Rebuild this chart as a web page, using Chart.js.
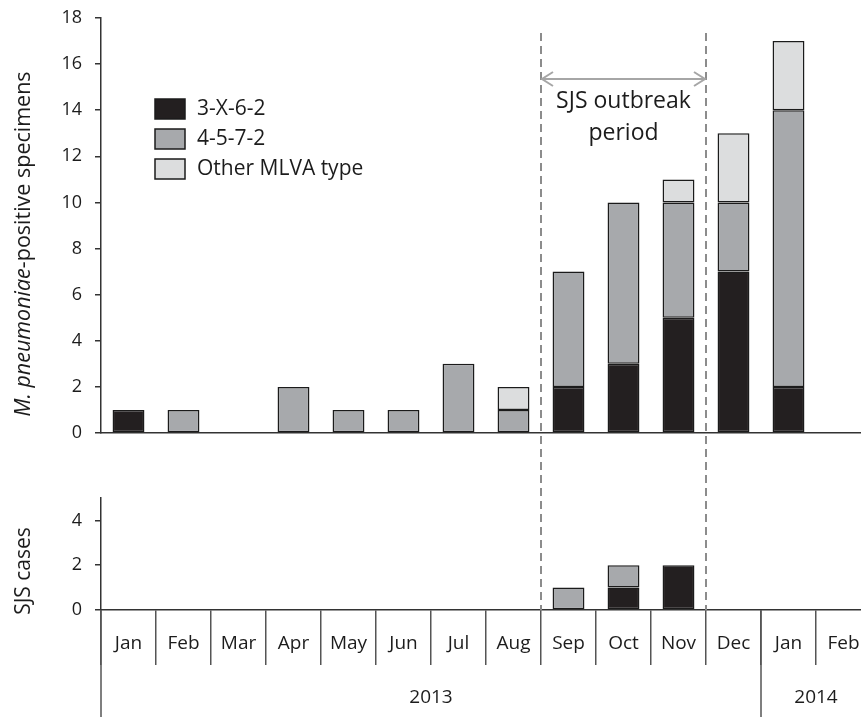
<!DOCTYPE html>
<html>
<head>
<meta charset="utf-8">
<script src="https://cdn.jsdelivr.net/npm/chart.js@4.4.1/dist/chart.umd.min.js"></script>
<style>
  html, body { margin: 0; padding: 0; background: #fff; overflow: hidden; width: 861px; height: 717px; }
  #wrap { position: relative; width: 861px; height: 717px; overflow: hidden; }
  canvas { position: absolute; left: 0; top: 0; }
</style>
</head>
<body>
<div id="wrap">
  <canvas id="specimens" width="880" height="717"></canvas>
  <canvas id="sjs" width="880" height="717"></canvas>
</div>
<script>
// Months on the shared x axis, with the year each month belongs to
const months = ['Jan', 'Feb', 'Mar', 'Apr', 'May', 'Jun', 'Jul', 'Aug', 'Sep', 'Oct', 'Nov', 'Dec', 'Jan', 'Feb'];
const yearLabels = ['2013', '2014'];
const yearFirstMonth = [0, 12];
const yearLastMonth = [11, 13];

// MLVA types
const seriesNames = ['3-X-6-2', '4-5-7-2', 'Other MLVA type'];

// M. pneumoniae-positive specimens per month, by MLVA type
const specimens3X62 = [1, 0, 0, 0, 0, 0, 0, 0, 2, 3, 5, 7, 2, 0];
const specimens4572 = [0, 1, 0, 2, 1, 1, 3, 1, 5, 7, 5, 3, 12, 0];
const specimensOther = [0, 0, 0, 0, 0, 0, 0, 1, 0, 0, 1, 3, 3, 0];

// SJS cases per month, by MLVA type
const sjs3X62 = [0, 0, 0, 0, 0, 0, 0, 0, 0, 1, 2, 0, 0, 0];
const sjs4572 = [0, 0, 0, 0, 0, 0, 0, 0, 1, 1, 0, 0, 0, 0];

// Outbreak period: first and last month index
const outbreakStart = 8;
const outbreakEnd = 10;
const outbreakText = ['SJS outbreak', 'period'];

// Axis ranges
const specimenAxis = { min: 0, max: 18, step: 2 };
const sjsAxis = { min: 0, max: 5, step: 2 };
const specimenTitleItalic = 'M. pneumoniae';
const specimenTitleRest = '-positive specimens';
const sjsTitle = 'SJS cases';

const FONT = '"Open Sans", Lato, sans-serif';
const INK = '#1c1c1c';
const FILLS = ['#231f20', '#a7a9ac', '#dcddde'];
const EDGE = '#1b1b1b';

function barSet(label, data, fill) {
  return {
    label, data,
    backgroundColor: fill,
    borderColor: EDGE,
    borderWidth: ctx => (ctx.raw ? 1.5 : 0),
    borderSkipped: false,
    categoryPercentage: 1,
    barPercentage: 0.58
  };
}

function yScale(range, fixWidth) {
  return {
    stacked: true,
    min: range.min, max: range.max,
    ticks: { stepSize: range.step, padding: 13, color: INK, font: { family: FONT, size: 18 } },
    afterBuildTicks(s) { s.ticks = s.ticks.filter(t => t.value % range.step === 0); },
    grid: { drawOnChartArea: false, drawTicks: true, tickLength: 6, color: '#333', lineWidth: 1.5 },
    border: { display: true, color: '#333', width: 1.5 },
    afterFit(s) { s.width = fixWidth; s.paddingTop = 0; s.paddingBottom = 0; }
  };
}

// boundary between month i and month i+1, in pixels
function boundary(xs, i) {
  return (xs.getPixelForValue(i) + xs.getPixelForValue(i + 1)) / 2;
}

const specimenDecor = {
  id: 'specimenDecor',
  afterDraw(chart) {
    const ctx = chart.ctx;
    ctx.save();
    // rotated y-axis title with italic organism name
    ctx.translate(24, 244);
    ctx.rotate(-Math.PI / 2);
    ctx.fillStyle = INK;
    ctx.textBaseline = 'middle';
    const fi = 'italic 21.5px ' + FONT, fn = '21.5px ' + FONT;
    ctx.font = fi; const w1 = ctx.measureText(specimenTitleItalic).width;
    ctx.font = fn; const w2 = ctx.measureText(specimenTitleRest).width;
    const x0 = -(w1 + w2) / 2;
    ctx.textAlign = 'left';
    ctx.font = fi; ctx.fillText(specimenTitleItalic, x0, 0);
    ctx.font = fn; ctx.fillText(specimenTitleRest, x0 + w1, 0);
    ctx.restore();

    // legend
    ctx.save();
    chart.data.datasets.forEach((ds, i) => {
      const y = 99 + i * 30;
      ctx.fillStyle = ds.backgroundColor;
      ctx.fillRect(155, y, 30, 20);
      ctx.strokeStyle = EDGE;
      ctx.lineWidth = 1.5;
      ctx.strokeRect(155, y, 30, 20);
      ctx.fillStyle = INK;
      ctx.font = '21px ' + FONT;
      ctx.textAlign = 'left';
      ctx.textBaseline = 'middle';
      ctx.fillText(ds.label, 197, y + 10);
    });
    ctx.restore();
  }
};

const sjsDecor = {
  id: 'sjsDecor',
  afterDraw(chart) {
    const ctx = chart.ctx;
    const area = chart.chartArea;
    const xs = chart.scales.x;
    ctx.save();
    // y-axis title
    ctx.translate(24, 571);
    ctx.rotate(-Math.PI / 2);
    ctx.fillStyle = INK;
    ctx.font = '21px ' + FONT;
    ctx.textAlign = 'center';
    ctx.textBaseline = 'middle';
    ctx.fillText(sjsTitle, 0, 0);
    ctx.restore();

    // year row: separators and labels
    ctx.save();
    ctx.strokeStyle = '#555';
    ctx.lineWidth = 1.5;
    const yearLeft = yearFirstMonth.map(i => boundary(xs, i - 1));
    const yearRight = yearLastMonth.map(i => boundary(xs, i));
    ctx.beginPath();
    yearLeft.forEach(x => { ctx.moveTo(x, area.bottom); ctx.lineTo(x, 717); });
    ctx.stroke();
    ctx.fillStyle = INK;
    ctx.font = '19px ' + FONT;
    ctx.textAlign = 'center';
    ctx.textBaseline = 'middle';
    yearLabels.forEach((lab, i) => ctx.fillText(lab, (yearLeft[i] + yearRight[i]) / 2, 698));
    ctx.restore();

    // outbreak period: dashed bounds, arrow and caption
    const xa = boundary(xs, outbreakStart - 1);
    const xb = boundary(xs, outbreakEnd);
    ctx.save();
    ctx.strokeStyle = '#8c8c8c';
    ctx.lineWidth = 2;
    ctx.setLineDash([8, 5]);
    ctx.beginPath();
    [xa, xb].forEach(x => { ctx.moveTo(x, 33); ctx.lineTo(x, area.bottom); });
    ctx.stroke();
    ctx.setLineDash([]);
    const ay = 79;
    ctx.strokeStyle = '#a6a6a6';
    ctx.lineWidth = 2;
    ctx.beginPath();
    ctx.moveTo(xa + 1, ay); ctx.lineTo(xb - 1, ay);
    ctx.moveTo(xa + 12, ay - 7); ctx.lineTo(xa + 1, ay); ctx.lineTo(xa + 12, ay + 7);
    ctx.moveTo(xb - 12, ay - 7); ctx.lineTo(xb - 1, ay); ctx.lineTo(xb - 12, ay + 7);
    ctx.stroke();
    ctx.fillStyle = INK;
    ctx.font = '23px ' + FONT;
    ctx.textAlign = 'center';
    ctx.textBaseline = 'middle';
    ctx.fillText(outbreakText[0], (xa + xb) / 2, 101);
    ctx.fillText(outbreakText[1], (xa + xb) / 2, 133);
    ctx.restore();
  }
};

new Chart(document.getElementById('specimens'), {
  type: 'bar',
  data: {
    labels: months,
    datasets: [
      barSet(seriesNames[0], specimens3X62, FILLS[0]),
      barSet(seriesNames[1], specimens4572, FILLS[1]),
      barSet(seriesNames[2], specimensOther, FILLS[2])
    ]
  },
  options: {
    responsive: false,
    animation: false,
    layout: { padding: { top: 18, left: 0, right: 9, bottom: 284 } },
    plugins: { legend: { display: false }, tooltip: { enabled: false } },
    scales: {
      x: {
        stacked: true,
        offset: true,
        ticks: { display: false },
        grid: { display: false, drawTicks: false },
        border: { display: true, color: '#333', width: 1.5 },
        afterFit(s) { s.height = 0; }
      },
      y: yScale(specimenAxis, 101)
    }
  },
  plugins: [specimenDecor]
});

new Chart(document.getElementById('sjs'), {
  type: 'bar',
  data: {
    labels: months,
    datasets: [
      barSet(seriesNames[0], sjs3X62, FILLS[0]),
      barSet(seriesNames[1], sjs4572, FILLS[1])
    ]
  },
  options: {
    responsive: false,
    animation: false,
    layout: { padding: { top: 498, left: 0, right: 9, bottom: 0 } },
    plugins: { legend: { display: false }, tooltip: { enabled: false } },
    scales: {
      x: {
        stacked: true,
        offset: true,
        ticks: { padding: -33, color: INK, font: { family: FONT, size: 19 }, maxRotation: 0, autoSkip: false },
        grid: { offset: true, drawOnChartArea: false, drawTicks: true, tickLength: 55, color: '#555', lineWidth: 1.5 },
        border: { display: true, color: '#333', width: 1.5 },
        afterFit(s) { s.height = 107; }
      },
      y: yScale(sjsAxis, 101)
    }
  },
  plugins: [sjsDecor]
});
</script>
</body>
</html>
